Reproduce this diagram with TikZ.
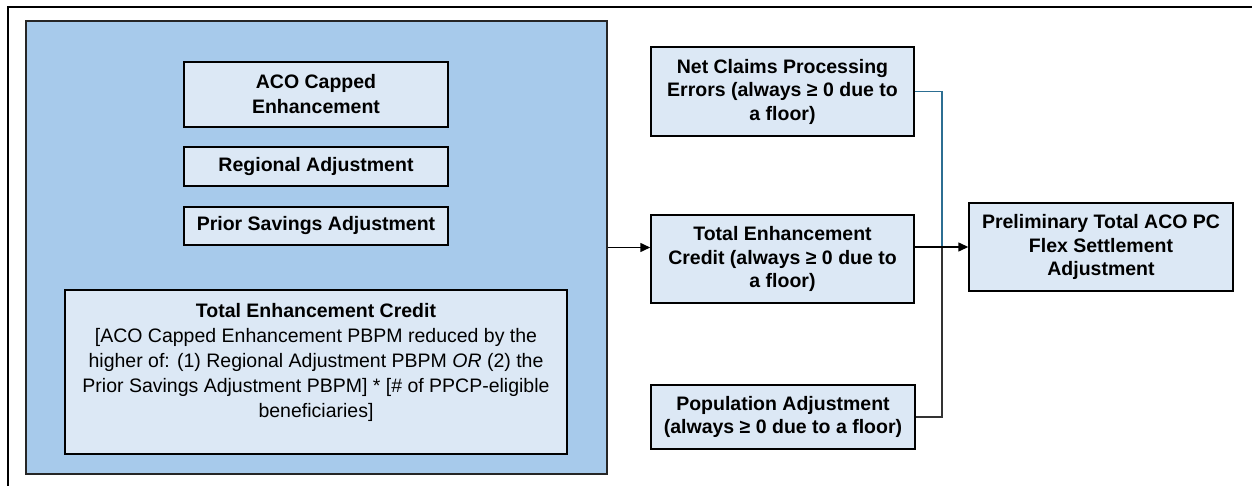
\documentclass[tikz,border=0pt]{standalone}
\usepackage{fontspec}
\setmainfont{Liberation Sans}
\usetikzlibrary{arrows.meta,calc}
\definecolor{groupfill}{HTML}{A7CAEB}
\definecolor{boxfill}{HTML}{DCE8F5}
\definecolor{linkblue}{HTML}{2C6E92}
\definecolor{linkgray}{HTML}{333333}
\tikzset{
  box/.style={draw=black, line width=1.5pt, fill=boxfill, align=center, inner sep=0pt,
    font=\fontsize{19.5}{23.5}\selectfont\bfseries},
  groupbox/.style={draw=black!85, line width=1.8pt, fill=groupfill, inner sep=0pt},
  link/.style={line width=1.5pt, draw=black},
  arr/.style={link, -{Triangle[length=10pt,width=9pt]}},
}
\begin{document}
\begin{tikzpicture}[x=1pt,y=-1pt]
\useasboundingbox (0,0) rectangle (1252,486);
% page frame
\draw[line width=2.5pt, line cap=rect] (8,487) -- (8,7) -- (1253,7);
% left group
\node[groupbox, minimum width=581pt, minimum height=453pt] (group) at (316.5,247.5) {};
\node[box, minimum width=264pt, minimum height=65pt, font=\fontsize{19.5}{25}\selectfont\bfseries] (aco) at (316,94.5) {ACO Capped\\Enhancement};
\node[box, minimum width=264pt, minimum height=39pt] (reg) at (316,166.5) {Regional Adjustment};
\node[box, minimum width=264pt, minimum height=38pt] (prior) at (316,226) {Prior Savings Adjustment};
\node[box, minimum width=502pt, minimum height=164pt] (tecin) at (316,372) {};
\node[anchor=north, align=center, inner sep=0pt, font=\fontsize{19.5}{25}\selectfont] (tectext) at ([yshift=-14pt]tecin.north)
  {\textbf{Total Enhancement Credit}\\
   {[}ACO Capped Enhancement PBPM reduced by the\\
   higher of: (1) Regional Adjustment PBPM \textit{OR} (2) the\\
   Prior Savings Adjustment PBPM{]} * {[}\# of PPCP-eligible\\
   beneficiaries{]}};
% right column
\node[box, minimum width=263pt, minimum height=89pt] (net) at (782.5,91.5) {Net Claims Processing\\Errors (always ≥ 0 due to\\a floor)};
\node[box, minimum width=263pt, minimum height=88pt] (tec) at (782.5,259) {Total Enhancement\\Credit (always ≥ 0 due to\\a floor)};
\node[box, minimum width=264pt, minimum height=64pt] (pop) at (783,417) {Population Adjustment\\(always ≥ 0 due to a floor)};
\node[box, minimum width=264pt, minimum height=88pt] (prelim) at (1101,247) {Preliminary Total ACO PC\\Flex Settlement\\Adjustment};
\coordinate (jx) at (942,247);
% connectors
\draw[arr] (group.east) -- (group.east -| tec.west);
\draw[link, draw=linkblue] (net.east) -| (jx);
\draw[link, draw=linkgray] (pop.east) -| (jx);
\draw[arr] (tec.east |- prelim.west) -- (prelim.west);
\end{tikzpicture}
\end{document}
